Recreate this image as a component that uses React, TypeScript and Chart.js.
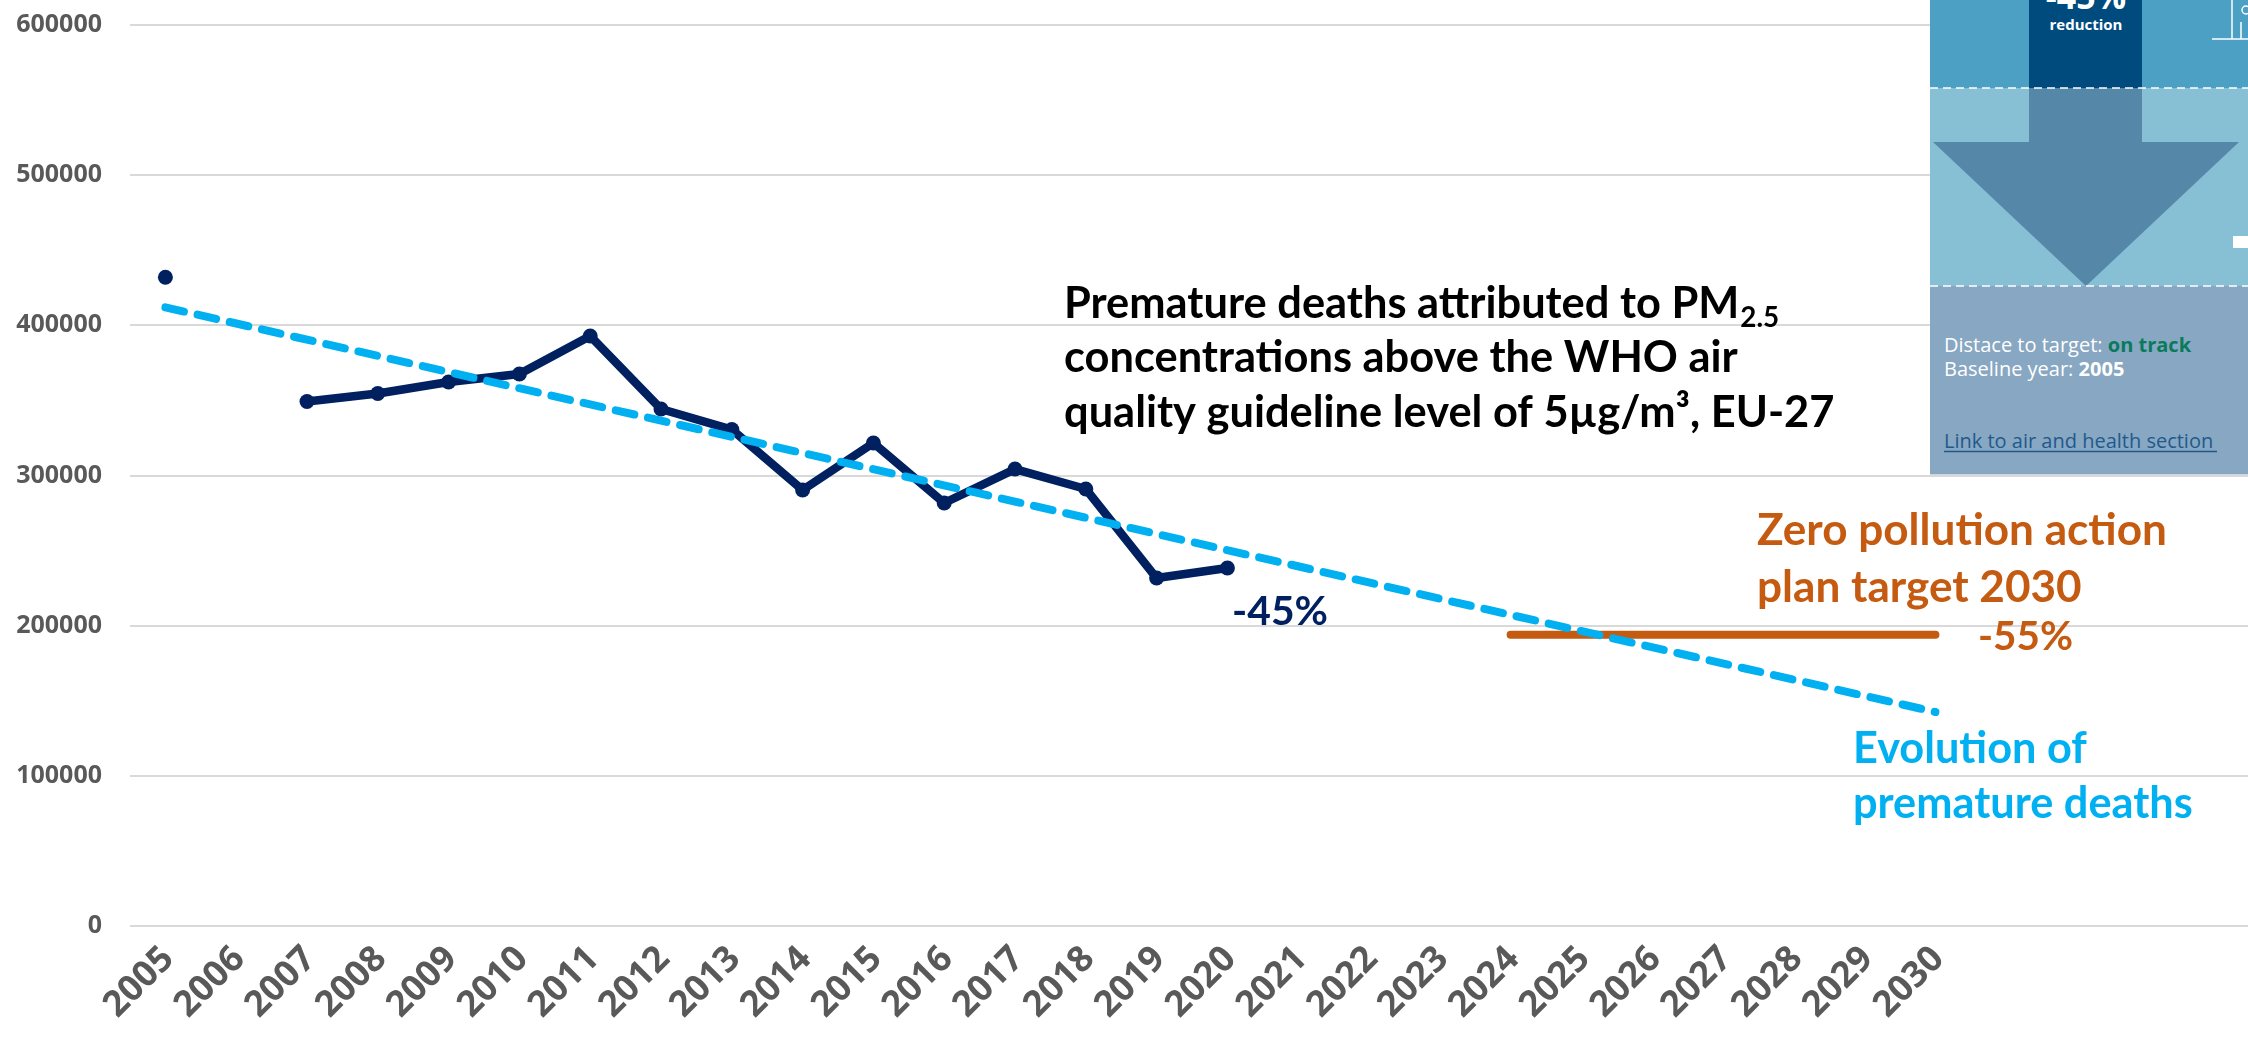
import React, { useEffect, useRef } from "react";
import { Chart, registerables } from "chart.js";

Chart.register(...registerables);

// ---- data ----
const years = [2005, 2006, 2007, 2008, 2009, 2010, 2011, 2012, 2013, 2014, 2015, 2016, 2017, 2018, 2019, 2020, 2021, 2022, 2023, 2024, 2025, 2026, 2027, 2028, 2029, 2030];
const observedYears = [2005, 2006, 2007, 2008, 2009, 2010, 2011, 2012, 2013, 2014, 2015, 2016, 2017, 2018, 2019, 2020];
const prematureDeaths = [432000, null, 349300, 354600, 362300, 367600, 392900, 344300, 330600, 290300, 321600, 281700, 304300, 291000, 231700, 238400];
const trendYears = [2005, 2030];
const trendValues = [412000, 142500];
const targetYears = [2024, 2030];
const targetValues = [194000, 194000];
const yTickValues = [0, 100000, 200000, 300000, 400000, 500000, 600000];

const titleLines = [
  "Premature deaths attributed to PM",
  "concentrations above the WHO air",
  "quality guideline level of 5µg/m³, EU-27",
];
const titleSub = "2.5";
const observedLabel = "-45%";
const targetLabelLines = ["Zero pollution action", "plan target 2030"];
const targetPct = "-55%";
const trendLabelLines = ["Evolution of", "premature deaths"];

const NAVY = "#002060";
const LIGHT_BLUE = "#00B0F0";
const ORANGE = "#C55A11";
const AXIS_GREY = "#595959";
const FONT = "Lato";

function fitSize(ctx: CanvasRenderingContext2D, text: string, width: number, weight = "bold", family = FONT) {
  ctx.font = `${weight} 100px ${family}`;
  const w = ctx.measureText(text).width;
  return (100 * width) / w;
}

const annotationPlugin = {
  id: "annotationTexts",
  afterDraw(chart: any) {
    const ctx: CanvasRenderingContext2D = chart.ctx;
    ctx.save();
    ctx.textAlign = "left";
    ctx.textBaseline = "alphabetic";

    // Title block
    const ts = fitSize(ctx, titleLines[1], 674);
    ctx.fillStyle = "#000000";
    ctx.font = `bold ${ts}px ${FONT}`;
    const tx = 1064;
    const tb = [318, 372, 427];
    ctx.fillText(titleLines[0], tx, tb[0]);
    const w0 = ctx.measureText(titleLines[0]).width;
    ctx.font = `bold ${ts * 0.64}px ${FONT}`;
    ctx.fillText(titleSub, tx + w0 + 1, tb[0] + ts * 0.2);
    ctx.font = `bold ${ts}px ${FONT}`;
    ctx.fillText(titleLines[1], tx, tb[1]);
    ctx.fillText(titleLines[2], tx, tb[2]);

    // -45%
    const s45 = fitSize(ctx, observedLabel, 96);
    ctx.font = `bold ${s45}px ${FONT}`;
    ctx.fillStyle = NAVY;
    ctx.fillText(observedLabel, 1232, 625);

    // target text
    const so = fitSize(ctx, targetLabelLines[0], 410);
    ctx.font = `bold ${so}px ${FONT}`;
    ctx.fillStyle = ORANGE;
    ctx.fillText(targetLabelLines[0], 1757, 545);
    ctx.fillText(targetLabelLines[1], 1757, 602);
    const s55 = fitSize(ctx, targetPct, 95);
    ctx.font = `bold ${s55}px ${FONT}`;
    ctx.fillText(targetPct, 1978, 650);

    // trend text
    const sb = fitSize(ctx, trendLabelLines[0], 234);
    ctx.font = `bold ${sb}px ${FONT}`;
    ctx.fillStyle = LIGHT_BLUE;
    ctx.fillText(trendLabelLines[0], 1853, 763);
    ctx.fillText(trendLabelLines[1], 1853, 818);

    ctx.restore();
  },
};

function InfoPanel() {
  const ff = "'Open Sans', sans-serif";
  return (
    <div style={{ position: "absolute", left: 1930, top: 0, width: 318, height: 475, zIndex: 2, overflow: "hidden" }}>
      <svg width={318} height={475} style={{ position: "absolute", left: 0, top: 0 }}>
        <rect x={0} y={0} width={318} height={88} fill="#4BA0C4" />
        <rect x={99} y={0} width={113} height={88} fill="#004B7E" />
        <rect x={0} y={88} width={318} height={198} fill="#87BFD5" />
        <rect x={99} y={88} width={113} height={55} fill="#5587A9" />
        <polygon points="3,142 309,142 156,286" fill="#5587A9" />
        <rect x={0} y={286} width={318} height={189} fill="#88A7C2" />
        <line x1={0} y1={88} x2={318} y2={88} stroke="#ffffff" strokeWidth={1.5} strokeDasharray="8 5" />
        <line x1={0} y1={286} x2={318} y2={286} stroke="#ffffff" strokeWidth={1.5} strokeDasharray="8 5" />
        <rect x={303} y={236} width={15} height={12} fill="#ffffff" />
        <line x1={282} y1={39} x2={318} y2={39} stroke="#ffffff" strokeWidth={1.5} />
        <line x1={302} y1={0} x2={302} y2={39} stroke="#ffffff" strokeWidth={1.5} />
        <line x1={311} y1={22} x2={311} y2={39} stroke="#ffffff" strokeWidth={1.5} />
        <circle cx={316} cy={10} r={4} stroke="#ffffff" strokeWidth={1.5} fill="none" />
        <text x={156} y={9} textAnchor="middle" fill="#ffffff" fontFamily={ff} fontWeight="bold" fontSize={34}>-45%</text>
        <text x={156} y={30} textAnchor="middle" fill="#ffffff" fontFamily={ff} fontWeight="bold" fontSize={15}>reduction</text>
        <text x={14} y={352} fill="#ffffff" fontFamily={ff} fontSize={20}>
          {"Distace to target: "}<tspan fontWeight="bold" fill="#0A7A5C">on track</tspan>
        </text>
        <text x={14} y={376} fill="#ffffff" fontFamily={ff} fontSize={20}>
          {"Baseline year: "}<tspan fontWeight="bold">2005</tspan>
        </text>
        <text x={14} y={448} fill="#1F5A8C" fontFamily={ff} fontSize={20}>Link to air and health section</text>
        <line x1={14} y1={451.5} x2={287} y2={451.5} stroke="#1F5A8C" strokeWidth={1.5} />
        <line x1={0} y1={474.5} x2={318} y2={474.5} stroke="#C9D7E4" strokeWidth={1} />
      </svg>
    </div>
  );
}

export default function App() {
  const canvasRef = useRef<HTMLCanvasElement | null>(null);

  useEffect(() => {
    if (!canvasRef.current) return;
    const chart = new Chart(canvasRef.current, {
      type: "line",
      data: {
        datasets: [
          {
            label: "Trend",
            data: trendYears.map((x, i) => ({ x, y: trendValues[i] })),
            borderColor: LIGHT_BLUE,
            borderWidth: 8,
            borderDash: [19, 14],
            borderCapStyle: "round",
            pointRadius: 0,
            fill: false,
          },
          {
            label: "Target",
            data: targetYears.map((x, i) => ({ x, y: targetValues[i] })),
            borderColor: ORANGE,
            borderWidth: 8,
            borderCapStyle: "round",
            pointRadius: 0,
            fill: false,
          },
          {
            label: "Premature deaths",
            data: observedYears.map((x, i) => ({ x, y: prematureDeaths[i] })),
            borderColor: NAVY,
            backgroundColor: NAVY,
            borderWidth: 8.5,
            borderCapStyle: "round",
            borderJoinStyle: "round",
            pointRadius: 7.5,
            pointBorderWidth: 0,
            pointBackgroundColor: NAVY,
            spanGaps: false,
            fill: false,
          },
        ] as any,
      },
      options: {
        animation: false,
        responsive: false,
        devicePixelRatio: 1,
        layout: { autoPadding: false, padding: { top: 25, right: 0, bottom: 0, left: 0 } },
        plugins: { legend: { display: false }, tooltip: { enabled: false }, title: { display: false } },
        scales: {
          x: {
            type: "linear",
            min: 2004.5,
            max: 2034.415,
            afterBuildTicks: (s: any) => {
              s.ticks = years.map((v) => ({ value: v }));
            },
            afterFit: (s: any) => {
              s.height = 118;
              s.paddingLeft = 0;
              s.paddingRight = 0;
            },
            grid: { display: false },
            border: { display: false },
            ticks: {
              autoSkip: false,
              minRotation: 45,
              maxRotation: 45,
              padding: 4,
              labelOffset: 3,
              color: AXIS_GREY,
              font: { family: "'Open Sans'", weight: "bold", size: 36 },
              callback: (v: any) => String(v),
            },
          },
          y: {
            type: "linear",
            min: 0,
            max: 600000,
            afterBuildTicks: (s: any) => {
              s.ticks = yTickValues.map((v) => ({ value: v }));
            },
            afterFit: (s: any) => {
              s.width = 130;
              s.paddingTop = 0;
              s.paddingBottom = 0;
            },
            grid: { color: "#D9D9D9", lineWidth: 2, drawTicks: false },
            border: { display: false },
            ticks: {
              padding: 28,
              color: AXIS_GREY,
              font: { family: "'Open Sans'", weight: "bold", size: 25 },
              callback: (v: any) => String(v),
            },
          },
        },
      } as any,
      plugins: [annotationPlugin],
    });
    return () => chart.destroy();
  }, []);

  return (
    <div style={{ position: "fixed", left: 0, top: 0, width: 2248, height: 1044, background: "#ffffff", overflow: "hidden" }}>
      <canvas ref={canvasRef} width={2248} height={1044} style={{ display: "block", position: "absolute", left: 0, top: 0 }} />
      <InfoPanel />
    </div>
  );
}
